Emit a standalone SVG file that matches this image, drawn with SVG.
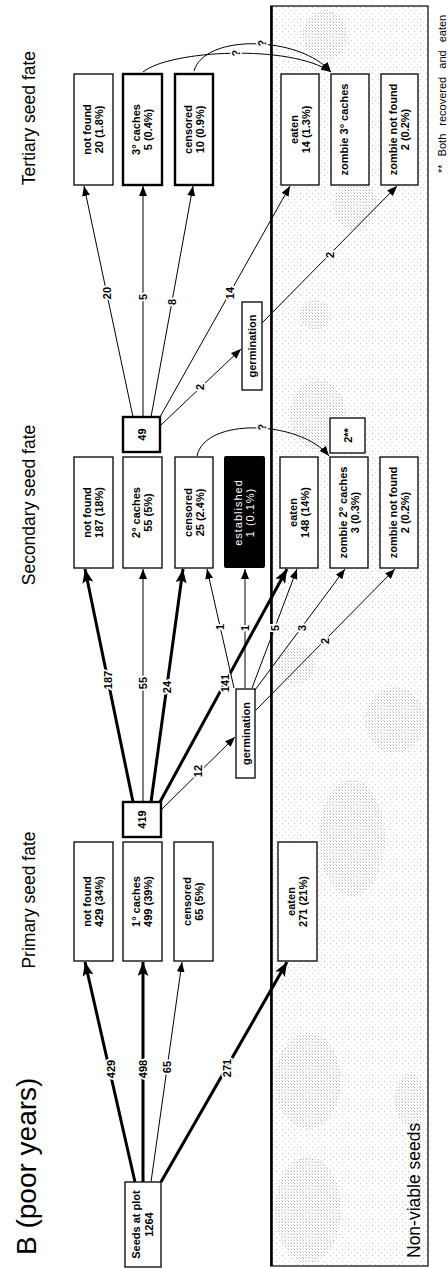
<svg xmlns="http://www.w3.org/2000/svg" width="448" height="1268" viewBox="0 0 448 1268">
<defs>
<style>
.box{fill:#fff;stroke:#000;stroke-width:1.3}
.thk{stroke-width:2.4}
.bt{font-family:"Liberation Sans",Arial,sans-serif;font-size:11px;font-weight:bold;text-anchor:middle;fill:#000}
.wt{font-family:"Liberation Sans",Arial,sans-serif;font-size:11px;text-anchor:middle;fill:#fff;letter-spacing:1px}
.el{font-family:"Liberation Sans",Arial,sans-serif;font-size:11px;font-weight:bold;text-anchor:middle;fill:#000;stroke:#fff;stroke-width:3.5px;paint-order:stroke;stroke-linejoin:round}
.e{fill:none;stroke:#000;stroke-width:1}
.e.w3{stroke-width:3}
.sec{font-family:"Liberation Sans",Arial,sans-serif;font-size:17.5px;fill:#000}
.blot{fill:url(#dense);opacity:0.4}
</style>
<marker id="ah" markerUnits="userSpaceOnUse" markerWidth="10" markerHeight="8" refX="10" refY="4" orient="auto"><path d="M0,0 L10,4 L0,8 Z" fill="#000"/></marker>
<marker id="ahb" markerUnits="userSpaceOnUse" markerWidth="14" markerHeight="11" refX="14" refY="5.5" orient="auto"><path d="M0,0 L14,5.5 L0,11 L3,5.5 Z" fill="#000"/></marker>
<pattern id="sparse" patternUnits="userSpaceOnUse" width="6" height="6"><rect width="6" height="6" fill="#fff"/><rect x="0" y="0" width="1" height="1" fill="#c4c4c4"/><rect x="3" y="3" width="1" height="1" fill="#dadada"/></pattern>
<pattern id="dense" patternUnits="userSpaceOnUse" width="3" height="3"><rect x="0" y="0" width="1" height="1" fill="#707070"/><rect x="1" y="2" width="1" height="1" fill="#a0a0a0"/></pattern>
</defs>
<g transform="matrix(0,-1,1,0,0,1268)">
<g id="nonviable">
<rect x="2" y="271" width="1260" height="157" fill="url(#sparse)" stroke="#000" stroke-width="1.2"/>
<ellipse class="blot" cx="603" cy="295" rx="18" ry="20"/>
<ellipse class="blot" cx="548" cy="395" rx="33" ry="30"/>
<ellipse class="blot" cx="430" cy="352" rx="58" ry="33"/>
<ellipse class="blot" cx="187" cy="308" rx="48" ry="33"/>
<ellipse class="blot" cx="58" cy="308" rx="53" ry="33"/>
<ellipse class="blot" cx="168" cy="410" rx="27" ry="15"/>
<ellipse class="blot" cx="853" cy="318" rx="35" ry="28"/>
<ellipse class="blot" cx="1233" cy="325" rx="25" ry="22"/>
<ellipse class="blot" cx="1063" cy="355" rx="25" ry="22"/>
<ellipse class="blot" cx="953" cy="315" rx="15" ry="15"/>
<line x1="2" y1="271.5" x2="1262" y2="271.5" stroke="#000" stroke-width="2.6"/>
<text class="sec" x="10" y="420">Non-viable seeds</text>
</g>
<g id="titles">
<text x="13" y="36" font-family="Liberation Sans, Arial, sans-serif" font-size="28">B (poor years)</text>
<text class="sec" x="368" y="35" text-anchor="middle">Primary seed fate</text>
<text class="sec" x="763" y="35" text-anchor="middle">Secondary seed fate</text>
<text class="sec" x="1150" y="35" text-anchor="middle">Tertiary seed fate</text>
<text x="1095" y="446" font-family="Liberation Sans, Arial, sans-serif" font-size="11" word-spacing="5">** Both recovered and eaten</text>
</g>
<g id="connectors">
<path class="e w3" d="M86,135 L306,85" marker-end="url(#ahb)"/>
<path class="e w3" d="M86,143 L306,143" stroke-width="3.4" marker-end="url(#ahb)"/>
<path class="e" d="M86,151 L306,182" marker-end="url(#ah)"/>
<path class="e w3" d="M86,161 L306,287" marker-end="url(#ahb)"/>
<text class="el" x="199" y="115">429</text>
<text class="el" x="199" y="147">498</text>
<text class="el" x="201" y="171">65</text>
<text class="el" x="200" y="231">271</text>
<path class="e w3" d="M466,133 L699,85" marker-end="url(#ahb)"/>
<path class="e" d="M466,143 L699,143" marker-end="url(#ah)"/>
<path class="e w3" d="M466,151 L699,183" marker-end="url(#ahb)"/>
<path class="e w3" d="M466,160 L699,287" marker-end="url(#ahb)"/>
<path class="e" d="M458,161 L531,235" marker-end="url(#ah)"/>
<text class="el" x="588" y="112">187</text>
<text class="el" x="585" y="147">55</text>
<text class="el" x="581" y="171">24</text>
<text class="el" x="585" y="229">141</text>
<text class="el" x="497" y="202">12</text>
<path class="e" d="M580,234 L699,207" marker-end="url(#ah)"/>
<path class="e" d="M580,245 L699,245" marker-end="url(#ah)"/>
<path class="e" d="M580,252 L699,297" marker-end="url(#ah)"/>
<path class="e" d="M578,255 L699,345" marker-end="url(#ah)"/>
<path class="e" d="M558,256 L699,395" marker-end="url(#ah)"/>
<text class="el" x="641" y="224">1</text>
<text class="el" x="640" y="249">1</text>
<text class="el" x="640" y="279">5</text>
<text class="el" x="640" y="306">3</text>
<text class="el" x="627" y="329">2</text>
<path class="e" d="M851,133 L1082,84" marker-end="url(#ah)"/>
<path class="e" d="M851,143 L1082,143" marker-end="url(#ah)"/>
<path class="e" d="M851,151 L1082,193" marker-end="url(#ah)"/>
<path class="e" d="M851,160 L1082,290" marker-end="url(#ah)"/>
<path class="e" d="M843,161 L919,241" marker-end="url(#ah)"/>
<path class="e" d="M945,262 L1082,397" marker-end="url(#ah)"/>
<text class="el" x="975" y="111">20</text>
<text class="el" x="971" y="147">5</text>
<text class="el" x="966" y="176">8</text>
<text class="el" x="975" y="234">14</text>
<text class="el" x="881" y="204">2</text>
<text class="el" x="1013" y="334">2</text>
<path class="e" d="M812,197 C851,205 848,300 812,329" marker-end="url(#ah)"/>
<path class="e" d="M1196,143 C1218,170 1224,290 1196,331" marker-end="url(#ah)"/>
<path class="e" d="M1197,194 C1235,205 1232,300 1196,331" marker-end="url(#ah)"/>
<text class="el" x="841" y="266">?</text>
<text class="el" x="1215" y="240">?</text>
<text class="el" x="1225" y="266">?</text>
</g>
<g id="seeds"><rect class="box" x="1" y="125" width="85" height="36"/><text class="bt" x="43.5" y="139.5">Seeds at plot</text><text class="bt" x="43.5" y="152.5">1264</text></g>
<g id="nf1"><rect class="box" x="307" y="74" width="119" height="39"/><text class="bt" x="366.5" y="91">not found</text><text class="bt" x="366.5" y="103">429 (34%)</text></g>
<g id="c1"><rect class="box" x="307" y="123" width="119" height="39"/><text class="bt" x="366.5" y="140">1° caches</text><text class="bt" x="366.5" y="152">499 (39%)</text></g>
<g id="cen1"><rect class="box" x="307" y="174" width="119" height="39"/><text class="bt" x="366.5" y="191">censored</text><text class="bt" x="366.5" y="203">65 (5%)</text></g>
<g id="eat1"><rect class="box" x="307" y="278" width="119" height="39"/><text class="bt" x="366.5" y="295">eaten</text><text class="bt" x="366.5" y="307">271 (21%)</text></g>
<g id="n419"><rect class="box thk" x="431" y="123" width="35" height="38"/><text class="bt" x="448.5" y="146">419</text></g>
<g id="germ2"><rect class="box" x="490" y="236" width="89" height="19"/><text class="bt" x="534.5" y="249.5">germination</text></g>
<g id="nf2"><rect class="box" x="700" y="74" width="111" height="39"/><text class="bt" x="755.5" y="91">not found</text><text class="bt" x="755.5" y="103">187 (18%)</text></g>
<g id="c2"><rect class="box" x="700" y="123" width="111" height="39" stroke-width="1.8"/><text class="bt" x="755.5" y="140">2° caches</text><text class="bt" x="755.5" y="152">55 (5%)</text></g>
<g id="cen2"><rect class="box" x="700" y="175" width="111" height="38"/><text class="bt" x="755.5" y="191.5">censored</text><text class="bt" x="755.5" y="203.5">25 (2.4%)</text></g>
<g id="est"><rect x="700" y="224" width="112" height="41" rx="2" fill="#000"/><text class="wt" x="755.5" y="242">established</text><text class="wt" x="755.5" y="254">1 (0.1%)</text></g>
<g id="eat2"><rect class="box" x="700" y="280" width="111" height="38"/><text class="bt" x="755.5" y="296.5">eaten</text><text class="bt" x="755.5" y="308.5">148 (14%)</text></g>
<g id="zc2"><rect class="box" x="700" y="330" width="111" height="38"/><text class="bt" x="755.5" y="346.5">zombie 2° caches</text><text class="bt" x="755.5" y="358.5">3 (0.3%)</text></g>
<g id="znf2"><rect class="box" x="700" y="380" width="111" height="38"/><text class="bt" x="755.5" y="396.5">zombie not found</text><text class="bt" x="755.5" y="408.5">2 (0.2%)</text></g>
<g id="n49"><rect class="box thk" x="816" y="123" width="35" height="37"/><text class="bt" x="833.5" y="145.5">49</text></g>
<g id="both"><rect class="box" x="815" y="330" width="35" height="35"/><text class="bt" x="832.5" y="351.5">2**</text></g>
<g id="germ3"><rect class="box" x="878" y="242" width="88" height="20"/><text class="bt" x="922" y="256">germination</text></g>
<g id="nf3"><rect class="box" x="1083" y="74" width="111" height="39"/><text class="bt" x="1138.5" y="91">not found</text><text class="bt" x="1138.5" y="103">20 (1.8%)</text></g>
<g id="c3"><rect class="box thk" x="1083" y="123" width="111" height="39"/><text class="bt" x="1138.5" y="140">3° caches</text><text class="bt" x="1138.5" y="152">5 (0.4%)</text></g>
<g id="cen3"><rect class="box thk" x="1083" y="175" width="111" height="38"/><text class="bt" x="1138.5" y="191.5">censored</text><text class="bt" x="1138.5" y="203.5">10 (0.9%)</text></g>
<g id="eat3"><rect class="box" x="1083" y="281" width="111" height="38"/><text class="bt" x="1138.5" y="297.5">eaten</text><text class="bt" x="1138.5" y="309.5">14 (1.3%)</text></g>
<g id="zc3"><rect class="box" x="1083" y="331" width="111" height="38"/><text class="bt" x="1138.5" y="348">zombie 3° caches</text></g>
<g id="znf3"><rect class="box" x="1083" y="381" width="111" height="37"/><text class="bt" x="1138.5" y="397">zombie not found</text><text class="bt" x="1138.5" y="409">2 (0.2%)</text></g>
</g>
</svg>
